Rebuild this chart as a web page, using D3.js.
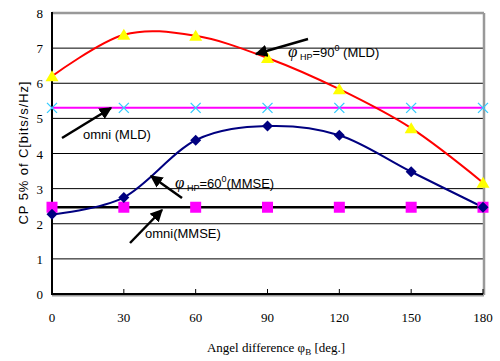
<!DOCTYPE html>
<html lang="en">
<head>
  <meta charset="UTF-8" />
  <title>CP 5% vs angle difference</title>
  <script src="https://d3js.org/d3.v7.min.js"></script>
  <style>
    body { margin: 0; background: #fff; }
    .tick-label { font-family: "Liberation Serif", "Times New Roman", serif; font-size: 13px; fill: #000; }
    .note { font-family: "Liberation Sans", Arial, sans-serif; font-size: 13px; fill: #000; }
  </style>
</head>
<body>
  <div id="chart"></div>
  <script>
    const angles = [0, 30, 60, 90, 120, 150, 180];
    const mld90 = [6.2, 7.38, 7.35, 6.72, 5.83, 4.72, 3.17];
    const omniMld = [5.3, 5.3, 5.3, 5.3, 5.3, 5.3, 5.3];
    const mmse60 = [2.27, 2.75, 4.38, 4.78, 4.52, 3.48, 2.47];
    const omniMmse = [2.47, 2.47, 2.47, 2.47, 2.47, 2.47, 2.47];
    const yTicks = [0, 1, 2, 3, 4, 5, 6, 7, 8];

    const width = 500, height = 361;
    const x = d3.scaleLinear().domain([0, 180]).range([52, 483]);
    const y = d3.scaleLinear().domain([0, 8]).range([294, 13]);

    const svg = d3.select("#chart").append("svg")
      .attr("width", width)
      .attr("height", height);

    // gridlines
    svg.append("g")
      .selectAll("line")
      .data(yTicks.slice(1))
      .join("line")
      .attr("x1", x(0)).attr("x2", x(180))
      .attr("y1", d => y(d)).attr("y2", d => y(d))
      .attr("stroke", "#000").attr("stroke-width", 1);

    // plot frame: grey top/right, black left/bottom
    svg.append("line").attr("x1", x(0)).attr("x2", x(180) + 1).attr("y1", y(8)).attr("y2", y(8))
      .attr("stroke", "#999").attr("stroke-width", 2.5);
    svg.append("line").attr("x1", x(180) + 1).attr("x2", x(180) + 1).attr("y1", y(8)).attr("y2", y(0) + 1)
      .attr("stroke", "#999").attr("stroke-width", 2.5);
    svg.append("line").attr("x1", x(0)).attr("x2", x(180) + 1).attr("y1", y(0) + 1.5).attr("y2", y(0) + 1.5)
      .attr("stroke", "#999").attr("stroke-width", 2);
    svg.append("line").attr("x1", x(0)).attr("x2", x(0)).attr("y1", y(8) - 1).attr("y2", y(0) + 1)
      .attr("stroke", "#000").attr("stroke-width", 2);
    svg.append("line").attr("x1", x(0)).attr("x2", x(180)).attr("y1", y(0)).attr("y2", y(0))
      .attr("stroke", "#000").attr("stroke-width", 2);

    // x ticks (inside)
    svg.append("g").selectAll("line")
      .data(angles)
      .join("line")
      .attr("x1", d => x(d)).attr("x2", d => x(d))
      .attr("y1", y(0)).attr("y2", y(0) - 5)
      .attr("stroke", "#000");

    svg.append("g").selectAll("text")
      .data(angles)
      .join("text")
      .attr("class", "tick-label")
      .attr("x", d => x(d)).attr("y", 322)
      .attr("text-anchor", "middle")
      .text(d => d);

    svg.append("g").selectAll("text")
      .data(yTicks)
      .join("text")
      .attr("class", "tick-label")
      .attr("x", 43).attr("y", d => y(d) + 5)
      .attr("text-anchor", "end")
      .text(d => d);

    // axis titles
    const xt = svg.append("text")
      .attr("class", "tick-label")
      .attr("x", 276).attr("y", 352)
      .attr("text-anchor", "middle");
    xt.append("tspan").text("Angel difference φ");
    xt.append("tspan").attr("font-size", 9).attr("dy", 3).text("B");
    xt.append("tspan").attr("dy", -3).text(" [deg.]");

    svg.append("text")
      .attr("class", "note")
      .attr("font-size", 12)
      .attr("transform", "translate(28,153) rotate(-90)")
      .attr("text-anchor", "middle")
      .attr("textLength", 143)
      .attr("lengthAdjust", "spacing")
      .text("CP 5% of C[bits/s/Hz]");

    // series
    const line = d3.line()
      .x((d, i) => x(angles[i]))
      .y(d => y(d))
      .curve(d3.curveCatmullRom.alpha(0));
    const straight = d3.line()
      .x((d, i) => x(angles[i]))
      .y(d => y(d));

    svg.append("path").attr("d", straight(omniMmse)).attr("fill", "none")
      .attr("stroke", "#000").attr("stroke-width", 2.5);
    svg.append("path").attr("d", straight(omniMld)).attr("fill", "none")
      .attr("stroke", "#ff00ff").attr("stroke-width", 2);
    svg.append("path").attr("d", line(mmse60)).attr("fill", "none")
      .attr("stroke", "#000080").attr("stroke-width", 2);
    svg.append("path").attr("d", line(mld90)).attr("fill", "none")
      .attr("stroke", "#ff0000").attr("stroke-width", 2);

    // markers
    svg.append("g").selectAll("rect")
      .data(omniMmse)
      .join("rect")
      .attr("x", (d, i) => x(angles[i]) - 5.5).attr("y", d => y(d) - 5.5)
      .attr("width", 11).attr("height", 11)
      .attr("fill", "#ff00ff");

    svg.append("g").selectAll("path")
      .data(omniMld)
      .join("path")
      .attr("d", (d, i) => {
        const cx = x(angles[i]), cy = y(d), r = 5;
        return `M${cx - r},${cy - r}L${cx + r},${cy + r}M${cx - r},${cy + r}L${cx + r},${cy - r}`;
      })
      .attr("stroke", "#33ccff").attr("stroke-width", 1.3);

    svg.append("g").selectAll("path")
      .data(mmse60)
      .join("path")
      .attr("d", (d, i) => {
        const cx = x(angles[i]), cy = y(d), r = 5.5;
        return `M${cx},${cy - r}L${cx + r},${cy}L${cx},${cy + r}L${cx - r},${cy}Z`;
      })
      .attr("fill", "#000080");

    svg.append("g").selectAll("path")
      .data(mld90)
      .join("path")
      .attr("d", (d, i) => {
        const cx = x(angles[i]), cy = y(d);
        return `M${cx},${cy - 6}L${cx + 6.5},${cy + 5}L${cx - 6.5},${cy + 5}Z`;
      })
      .attr("fill", "#ffff00");

    // annotations
    svg.append("defs").append("marker")
      .attr("id", "arr")
      .attr("viewBox", "0 0 10 10")
      .attr("refX", 9).attr("refY", 5)
      .attr("markerWidth", 5).attr("markerHeight", 5)
      .attr("orient", "auto")
      .append("path").attr("d", "M0,0L10,5L0,10Z").attr("fill", "#000");

    const arrows = [
      [308, 39, 256, 54],
      [62, 138, 111, 108],
      [182, 198, 151, 176],
      [130, 243, 162, 210]
    ];
    svg.append("g").selectAll("line")
      .data(arrows)
      .join("line")
      .attr("x1", d => d[0]).attr("y1", d => d[1])
      .attr("x2", d => d[2]).attr("y2", d => d[3])
      .attr("stroke", "#000").attr("stroke-width", 2.5)
      .attr("marker-end", "url(#arr)");

    function phiLabel(tx, ty, angle, tail) {
      const t = svg.append("text").attr("class", "note").attr("x", tx).attr("y", ty);
      t.append("tspan").attr("font-family", "Liberation Serif, serif").attr("font-style", "italic")
        .attr("font-size", 17).text("φ");
      t.append("tspan").attr("font-size", 9).attr("dy", 3).text(" HP");
      t.append("tspan").attr("dy", -3).text("=" + angle);
      t.append("tspan").attr("font-size", 9).attr("dy", -6).text("0");
      t.append("tspan").attr("dy", 6).text(tail);
    }
    phiLabel(288, 57, "90", " (MLD)");
    phiLabel(175, 188, "60", "(MMSE)");

    svg.append("text").attr("class", "note").attr("x", 83).attr("y", 139).text("omni (MLD)");
    svg.append("text").attr("class", "note").attr("x", 145).attr("y", 238).text("omni(MMSE)");
  </script>
</body>
</html>
